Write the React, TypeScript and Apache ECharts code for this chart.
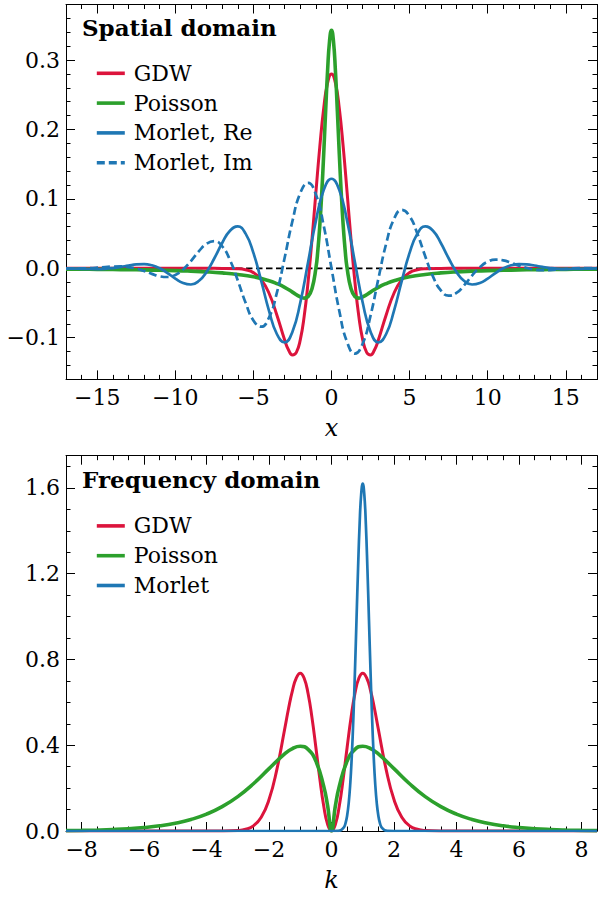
import React, { useEffect, useRef } from 'react';
import * as echarts from 'echarts';

// ---------- Spatial domain data ----------
const morletX = [
  -17, -16.5, -16, -15.5, -15, -14.5, -14, -13.5, -13, -12.5, -12, -11.5, -11, -10.5, -10, -9.5, -9, -8.5,
  -8, -7.5, -7, -6.5, -6, -5.5, -5, -4.5, -4, -3.5, -3, -2.5, -2, -1.5, -1, -0.5, 0,
  0.5, 1, 1.5, 2, 2.5, 3, 3.5, 4, 4.5, 5, 5.5, 6, 6.5, 7, 7.5, 8, 8.5, 9, 9.5, 10, 10.5,
  11, 11.5, 12, 12.5, 13, 13.5, 14, 14.5, 15, 15.5, 16, 16.5, 17,
];
const morletRe = [
  -0.0001, -0.0004, -0.0007, -0.001, -0.0011, -0.0007, 0.0004, 0.002, 0.004, 0.0057, 0.0061, 0.0044, 0.0001,
  -0.0068, -0.0147, -0.0212, -0.0233, -0.0183, -0.0052, 0.0145, 0.0365, 0.0541, 0.0603, 0.0499, 0.0222,
  -0.0181, -0.0612, -0.0946, -0.1067, -0.0912, -0.0496, 0.0087, 0.0683, 0.1126, 0.129,
  0.1126, 0.0683, 0.0087, -0.0496, -0.0912, -0.1067, -0.0946, -0.0612, -0.0181, 0.0222, 0.0499, 0.0603,
  0.0541, 0.0365, 0.0145, -0.0052, -0.0183, -0.0233, -0.0212, -0.0147, -0.0068, 0.0001, 0.0044, 0.0061,
  0.0057, 0.004, 0.002, 0.0004, -0.0007, -0.0011, -0.001, -0.0007, -0.0004, -0.0001,
];
const morletIm = [
  -0.0004, -0.0004, -0.0002, 0.0002, 0.0009, 0.0018, 0.0025, 0.0027, 0.0018, -0.0004, -0.0039, -0.008, -0.0115,
  -0.0125, -0.0095, -0.0016, 0.0105, 0.0243, 0.0355, 0.0393, 0.0318, 0.0119, -0.0175, -0.0497, -0.075,
  -0.0841, -0.0709, -0.0354, 0.0152, 0.0681, 0.1083, 0.123, 0.1064, 0.0615, 0,
  -0.0615, -0.1064, -0.123, -0.1083, -0.0681, -0.0152, 0.0354, 0.0709, 0.0841, 0.075, 0.0497, 0.0175,
  -0.0119, -0.0318, -0.0393, -0.0355, -0.0243, -0.0105, 0.0016, 0.0095, 0.0125, 0.0115, 0.008, 0.0039,
  0.0004, -0.0018, -0.0027, -0.0025, -0.0018, -0.0009, -0.0002, 0.0002, 0.0004, 0.0004,
];
const gdwSpatialX = [
  -17, -10, -8, -7, -6, -5.5, -5, -4.5, -4, -3.5, -3, -2.75, -2.5, -2.25, -2, -1.75, -1.5, -1.25, -1, -0.75, -0.5, -0.25, 0,
  0.25, 0.5, 0.75, 1, 1.25, 1.5, 1.75, 2, 2.25, 2.5, 2.75, 3, 3.5, 4, 4.5, 5, 5.5, 6, 7, 8, 10, 17,
];
const gdwSpatialY = [
  0, 0, 0, -0.0001, -0.0006, -0.0021, -0.0062, -0.0162, -0.0359, -0.0671, -0.1033, -0.1176, -0.1247, -0.121, -0.103,
  -0.0692, -0.0199, 0.0415, 0.109, 0.1748, 0.2302, 0.267, 0.28,
  0.267, 0.2302, 0.1748, 0.109, 0.0415, -0.0199, -0.0692, -0.103, -0.121, -0.1247, -0.1176, -0.1033, -0.0671,
  -0.0359, -0.0162, -0.0062, -0.0021, -0.0006, -0.0001, 0, 0, 0,
];
const poissonSpatialX = [
  -17, -16, -15, -14, -13, -12, -11, -10, -9, -8, -7, -6, -5, -4, -3.5, -3, -2.5, -2, -1.75, -1.5, -1.25, -1,
  -0.875, -0.75, -0.625, -0.5, -0.375, -0.25, -0.125, 0, 0.125, 0.25, 0.375, 0.5, 0.625, 0.75, 0.875,
  1, 1.25, 1.5, 1.75, 2, 2.5, 3, 3.5, 4, 5, 6, 7, 8, 9, 10, 11, 12, 13, 14, 15, 16, 17,
];
const poissonSpatialY = [
  -0.0012, -0.0013, -0.0015, -0.0017, -0.002, -0.0023, -0.0028, -0.0033, -0.0041, -0.0051, -0.0066, -0.0088,
  -0.0122, -0.0178, -0.022, -0.0274, -0.0343, -0.0412, -0.0429, -0.0406, -0.0294, 0,
  0.0258, 0.0615, 0.1081, 0.1646, 0.2266, 0.2849, 0.3273, 0.343, 0.3273, 0.2849, 0.2266, 0.1646, 0.1081, 0.0615, 0.0258,
  0, -0.0294, -0.0406, -0.0429, -0.0412, -0.0343, -0.0274, -0.022, -0.0178, -0.0122, -0.0088, -0.0066, -0.0051,
  -0.0041, -0.0033, -0.0028, -0.0023, -0.002, -0.0017, -0.0015, -0.0013, -0.0012,
];
const zeroLineX = [-17, 17];
const zeroLineY = [0, 0];

// ---------- Frequency domain data ----------
const gdwFreqK = [
  -8.5, -4, -3.5, -3, -2.75, -2.5, -2.25, -2, -1.75, -1.5, -1.375, -1.25, -1.125, -1, -0.875, -0.75, -0.625, -0.5,
  -0.375, -0.25, -0.125, 0, 0.125, 0.25, 0.375, 0.5, 0.625, 0.75, 0.875, 1, 1.125, 1.25, 1.375, 1.5, 1.75, 2,
  2.25, 2.5, 2.75, 3, 3.5, 4, 8.5,
];
const gdwFreqY = [
  0, 0, 0.0001, 0.0022, 0.0079, 0.0241, 0.0641, 0.1465, 0.2865, 0.4743, 0.571, 0.655, 0.7141, 0.7358, 0.712, 0.641,
  0.5286, 0.3894, 0.2443, 0.1174, 0.0308, 0, 0.0308, 0.1174, 0.2443, 0.3894, 0.5286, 0.641, 0.712, 0.7358, 0.7141,
  0.655, 0.571, 0.4743, 0.2865, 0.1465, 0.0641, 0.0241, 0.0079, 0.0022, 0.0001, 0, 0,
];
const poissonFreqK = [
  -8.5, -8, -7.5, -7, -6.5, -6, -5.5, -5, -4.5, -4, -3.5, -3, -2.5, -2, -1.5, -1.25, -1, -0.75, -0.5, -0.25, -0.125,
  0, 0.125, 0.25, 0.5, 0.75, 1, 1.25, 1.5, 2, 2.5, 3, 3.5, 4, 4.5, 5, 5.5, 6, 6.5, 7, 7.5, 8, 8.5,
];
const poissonFreqY = [
  0.0019, 0.0029, 0.0045, 0.0069, 0.0105, 0.016, 0.0241, 0.0362, 0.0537, 0.0787, 0.1135, 0.1604, 0.2204, 0.2907,
  0.3595, 0.3846, 0.3951, 0.3805, 0.3257, 0.2091, 0.1185, 0, 0.1185, 0.2091, 0.3257, 0.3805, 0.3951, 0.3846,
  0.3595, 0.2907, 0.2204, 0.1604, 0.1135, 0.0787, 0.0537, 0.0362, 0.0241, 0.016, 0.0105, 0.0069, 0.0045, 0.0029, 0.0019,
];
const morletFreqK = [
  -8.5, 0, 0.2, 0.3, 0.4, 0.45, 0.5, 0.55, 0.6, 0.65, 0.7, 0.75, 0.8, 0.85, 0.9, 0.95, 1, 1.05, 1.1, 1.15, 1.2,
  1.25, 1.3, 1.35, 1.4, 1.45, 1.5, 1.55, 1.6, 1.7, 1.8, 2, 8.5,
];
const morletFreqY = [
  0, 0, 0.0005, 0.0036, 0.018, 0.0369, 0.0712, 0.129, 0.2192, 0.3504, 0.526, 0.7416, 0.9826, 1.2228, 1.4297, 1.57,
  1.62, 1.57, 1.4297, 1.2228, 0.9826, 0.7416, 0.526, 0.3504, 0.2192, 0.129, 0.0712, 0.0369, 0.018, 0.0036, 0.0005, 0, 0,
];

// ---------- Labels / ticks ----------
const spatialNames = ['GDW', 'Poisson', 'Morlet, Re', 'Morlet, Im'];
const freqNames = ['GDW', 'Poisson', 'Morlet'];
const spatialXTicks = [-15, -10, -5, 0, 5, 10, 15];
const spatialYTicks = [-0.1, 0, 0.1, 0.2, 0.3];
const freqXTicks = [-8, -6, -4, -2, 0, 2, 4, 6, 8];
const freqYTicks = [0, 0.4, 0.8, 1.2, 1.6];

const RED = '#dc143c';
const GREEN = '#2ca02c';
const BLUE = '#1f77b4';
const FONT = "'DejaVu Serif', serif";
const BOLD_FONT = "'DejaVu Serif', serif";
const FS = 22;

const pairs = (xs: number[], ys: number[]) => xs.map((x, i) => [x, ys[i]]);

const fmt = (ticks: number[], digits: number) => (v: number) => {
  if (!ticks.some((t) => Math.abs(t - v) < 1e-6)) return '';
  const s = Math.abs(v).toFixed(digits);
  return v < -1e-9 ? '\u2212' + s : s;
};

const LBL = { fontSize: FS, fontFamily: FONT, color: '#000' };

function xAxes(g: number, min: number, max: number, major: number, minor: number, ticks: number[], name: string) {
  const line = { show: true, onZero: false, lineStyle: { color: '#000', width: 1 } };
  const noLine = { show: false, onZero: false };
  const majorTick = { show: true, inside: true, length: 9, lineStyle: { color: '#000', width: 1 } };
  const minorTick = { show: true, inside: true, length: 4.5, lineStyle: { color: '#000', width: 1 } };
  const base = { type: 'value', gridIndex: g, min, max, splitLine: { show: false } };
  return [
    {
      ...base, position: 'bottom', minInterval: major, maxInterval: major, axisLine: line, axisTick: majorTick,
      axisLabel: { ...LBL, margin: 7, formatter: fmt(ticks, 0) },
      name, nameLocation: 'middle', nameGap: 37,
      nameTextStyle: { fontSize: 24, fontFamily: FONT, fontStyle: 'italic', color: '#000' },
    },
    { ...base, position: 'bottom', interval: minor, axisLine: noLine, axisTick: minorTick, axisLabel: { show: false } },
    { ...base, position: 'top', minInterval: major, maxInterval: major, axisLine: line, axisTick: majorTick, axisLabel: { show: false } },
    { ...base, position: 'top', interval: minor, axisLine: noLine, axisTick: minorTick, axisLabel: { show: false } },
  ];
}

function yAxes(g: number, min: number, max: number, major: number, minor: number, ticks: number[]) {
  const line = { show: true, onZero: false, lineStyle: { color: '#000', width: 1 } };
  const noLine = { show: false, onZero: false };
  const majorTick = { show: true, inside: true, length: 9, lineStyle: { color: '#000', width: 1 } };
  const minorTick = { show: true, inside: true, length: 4.5, lineStyle: { color: '#000', width: 1 } };
  const base = { type: 'value', gridIndex: g, min, max, splitLine: { show: false } };
  return [
    {
      ...base, position: 'left', minInterval: major, maxInterval: major, axisLine: line, axisTick: majorTick,
      axisLabel: { ...LBL, margin: 6, formatter: fmt(ticks, 1) },
    },
    { ...base, position: 'left', interval: minor, axisLine: noLine, axisTick: minorTick, axisLabel: { show: false } },
    { ...base, position: 'right', minInterval: major, maxInterval: major, axisLine: line, axisTick: majorTick, axisLabel: { show: false } },
    { ...base, position: 'right', interval: minor, axisLine: noLine, axisTick: minorTick, axisLabel: { show: false } },
  ];
}

function lineSeries(name: string, data: number[][], g: number, color: string, width: number, dash?: number[]) {
  return {
    type: 'line', name, data, xAxisIndex: g * 4, yAxisIndex: g * 4, smooth: true, symbol: 'none', showSymbol: false,
    color, lineStyle: { color, width, type: dash || 'solid' }, itemStyle: { color }, z: 3,
  };
}

const legendBase = {
  orient: 'vertical', left: 95, padding: 0, itemWidth: 28, itemHeight: 14, itemGap: 0, selectedMode: false,
  itemStyle: { opacity: 0 },
  lineStyle: { width: 3.6 },
  textStyle: { fontSize: FS, fontFamily: FONT, color: '#000', lineHeight: 29.8, padding: [0, 0, 0, 4] },
};

export default function App() {
  const ref = useRef<HTMLDivElement>(null);
  useEffect(() => {
    if (!ref.current) return;
    const chart = echarts.init(ref.current, undefined, { renderer: 'svg' });
    chart.setOption({
      animation: false,
      backgroundColor: '#fff',
      textStyle: { fontFamily: FONT },
      title: [
        {
          text: 'Spatial domain', left: 82, top: 13.5, padding: 0,
          textStyle: { fontFamily: BOLD_FONT, fontWeight: 'bold', fontSize: 23, color: '#000', lineHeight: 28 },
        },
        {
          text: 'Frequency domain', left: 82, top: 465.5, padding: 0,
          textStyle: { fontFamily: BOLD_FONT, fontWeight: 'bold', fontSize: 23, color: '#000', lineHeight: 28 },
        },
      ],
      legend: [
        { ...legendBase, top: 58.4, data: spatialNames },
        { ...legendBase, top: 511, data: freqNames },
      ],
      grid: [
        { left: 66, right: 1, top: 4.5, bottom: 519.6, containLabel: false, outerBoundsMode: 'none' },
        { left: 66, right: 1, top: 455.7, bottom: 68, containLabel: false, outerBoundsMode: 'none' },
      ],
      xAxis: [
        ...xAxes(0, -17, 17, 5, 1, spatialXTicks, 'x'),
        ...xAxes(1, -8.5, 8.5, 2, 0.5, freqXTicks, 'k'),
      ],
      yAxis: [
        ...yAxes(0, -0.16, 0.38, 0.1, 0.02, spatialYTicks),
        ...yAxes(1, 0, 1.75, 0.4, 0.1, freqYTicks),
      ],
      series: [
        {
          type: 'line', name: 'zero', data: pairs(zeroLineX, zeroLineY), xAxisIndex: 0, yAxisIndex: 0,
          symbol: 'none', lineStyle: { color: '#000', width: 1.8, type: [6.5, 3.5] }, z: 2,
        },
        lineSeries('GDW', pairs(gdwSpatialX, gdwSpatialY), 0, RED, 3),
        lineSeries('Poisson', pairs(poissonSpatialX, poissonSpatialY), 0, GREEN, 3.6),
        lineSeries('Morlet, Re', pairs(morletX, morletRe), 0, BLUE, 2.7),
        lineSeries('Morlet, Im', pairs(morletX, morletIm), 0, BLUE, 2.7, [8, 4]),
        lineSeries('GDW', pairs(gdwFreqK, gdwFreqY), 1, RED, 3),
        lineSeries('Poisson', pairs(poissonFreqK, poissonFreqY), 1, GREEN, 3.6),
        lineSeries('Morlet', pairs(morletFreqK, morletFreqY), 1, BLUE, 2.7),
      ],
    });
    return () => chart.dispose();
  }, []);
  return (
    <div style={{ position: 'fixed', left: 0, top: 0, width: 598, height: 899, background: '#fff' }}>
      <div ref={ref} style={{ width: 598, height: 899 }} />
    </div>
  );
}
